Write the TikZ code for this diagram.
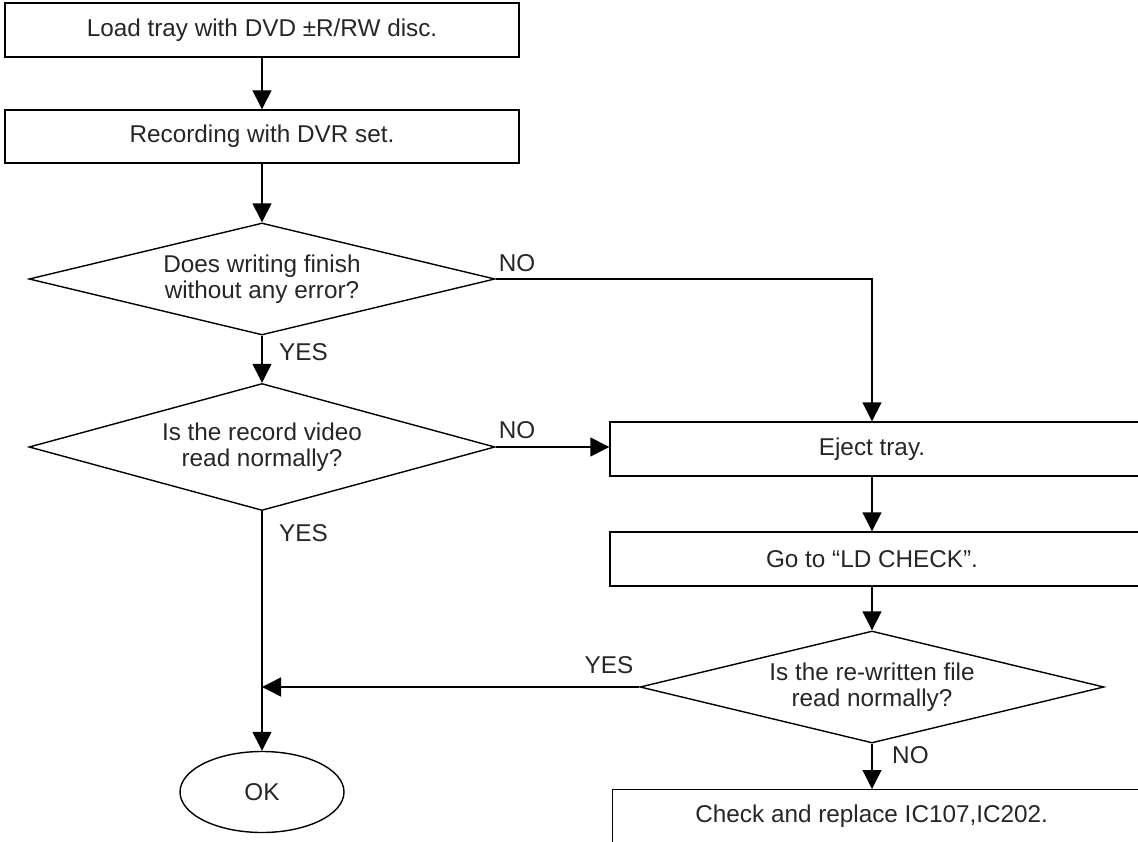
\documentclass[tikz,border=0pt]{standalone}
\usepackage{fontspec}
\setmainfont{Liberation Sans}
\usetikzlibrary{shapes.geometric,arrows.meta}
\begin{document}
\begin{tikzpicture}[x=1pt,y=-1pt,
  every node/.style={font=\fontsize{24.3}{25.5}\selectfont,text=black!85},
  box/.style={draw,line width=1.4pt,minimum height=54pt,inner sep=0pt},
  dec/.style={draw,diamond,line width=1.4pt,minimum width=466pt,minimum height=112pt,inner sep=0pt,align=center,aspect=4},
  arr/.style={line width=1.4pt,-{Triangle[length=19pt,width=19pt]}},
  lbl/.style={inner sep=0pt}]
\useasboundingbox (0,0) rectangle (1138,842);
\clip (0,0) rectangle (1138,842);
\node[box,minimum width=514pt] (b1) at (262,30) {Load tray with DVD ±R/RW disc.};
\node[box,minimum width=514pt,minimum height=53pt] (b2) at (262,136.5) {Recording with DVR set.};
\node[dec] (d1) at (262,279) {Does writing finish\\without any error?};
\node[dec,minimum height=127pt] (d2) at (262,447) {Is the record video\\read normally?};
\node[box,minimum width=560pt] (ej) at (890,449) {Eject tray.\hspace*{36pt}};
\node[box,minimum width=560pt] (go) at (890,559) {Go to “LD CHECK”.\hspace*{36pt}};
\node[dec,minimum width=464pt] (d3) at (872,687) {Is the re-written file\\read normally?};
\node[draw,ellipse,line width=1.4pt,minimum width=164pt,minimum height=81pt,inner sep=0pt] (ok) at (262,792) {OK};
\node[box,minimum width=560pt,anchor=north west] (ck) at (612,789) {Check and replace IC107,IC202.\hspace*{42pt}};

\draw[arr] (b1) -- (b2);
\draw[arr] (b2) -- (d1);
\draw[arr] (d1) -- (d2);
\draw[arr] (d2) -- (ok);
\draw[arr] (d1.east) -| ([xshift=-18pt]ej.north);
\draw[arr] (d2.east) -- (d2.east -| ej.west);
\draw[arr] ([xshift=-18pt]ej.south) -- ([xshift=-18pt]go.north);
\draw[arr] ([xshift=-18pt]go.south) -- (d3.north);
\draw[arr] (d3.south) -- (d3.south |- ck.north);
\draw[arr] (d3.west) -- (d3.west -| ok.north);

\node[lbl] (no1) at (517,263) {NO};
\node[lbl] (no2) at (517,430) {NO};
\node[lbl,anchor=west] (yes1) at (279,352) {YES};
\node[lbl,anchor=west] (yes2) at (279,533) {YES};
\node[lbl] (yes3) at (609,665) {YES};
\node[lbl,anchor=west] (no3) at (892,755) {NO};
\end{tikzpicture}
\end{document}
